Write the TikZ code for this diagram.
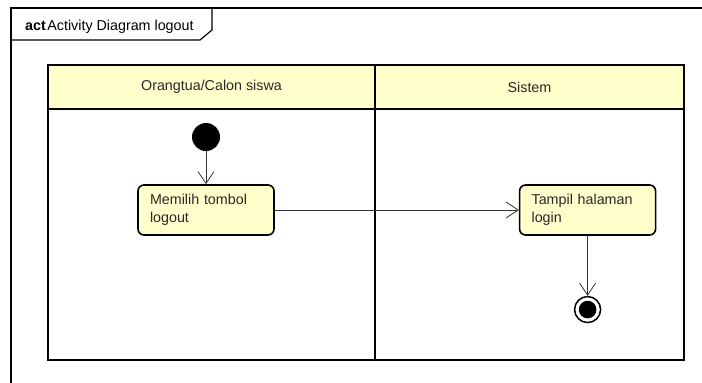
\documentclass[tikz,border=0pt]{standalone}
\usepackage{fontspec}
\setmainfont{Liberation Sans}
\usepackage{tikz}
\usetikzlibrary{positioning}
\usetikzlibrary{arrows.meta}
\definecolor{umlyellow}{RGB}{255,255,204}
\definecolor{umltext}{RGB}{40,40,40}
\tikzstyle{lanehead} = [rectangle, draw=black, line width=1.6pt, fill=umlyellow, minimum height=44pt, inner sep=0pt]
\tikzstyle{action} = [rectangle, rounded corners=6pt, draw=black, line width=1.6pt, fill=umlyellow, minimum height=50pt, text width=112pt, inner xsep=12pt, inner ysep=0pt, align=left]
\tikzstyle{startdot} = [circle, fill=black, minimum size=28pt, inner sep=0pt]
\tikzstyle{enddot} = [circle, draw=black, line width=1.5pt, minimum size=26pt, inner sep=0pt]
\tikzstyle{arrow} = [draw=black!80, line width=0.8pt, -{Straight Barb[length=12pt,width=16pt]}]

\begin{document}
\begin{tikzpicture}[x=1pt, y=-1pt, font=\fontsize{14.3}{18}\selectfont, text=umltext]
\useasboundingbox (0,0) rectangle (702,383);

% frame and its tag
\draw[line width=1.2pt] (11,383) -- (11,8) -- (702,8);
\draw[line width=1.2pt] (11,40) -- (200,40) -- (212,30) -- (212,8);
\node (title) [anchor=base west, inner sep=0pt, text=black] at (25,30) {\textbf{act}\hspace{1.5pt}Activity Diagram logout};

% swimlanes
\draw[line width=1.6pt] (48,65) rectangle (684,360);
\draw[line width=1.6pt] (375,65) -- (375,360);
\node (lane1) [lanehead, minimum width=327pt] at (211.5,87) {Orangtua/Calon siswa};
\node (lane2) [lanehead, minimum width=309pt] at (529.5,87) {Sistem};

\node (start) [startdot] at (206,137) {};
\node (pilih) [action, below=33pt of start] {Memilih tombol\\logout};
\node (tampil) [action, right=244pt of pilih] {Tampil halaman\\login};
\node (end) [enddot, below=60pt of tampil] {};
\fill (end.center) circle (8.8pt);

\draw [arrow] (start) -- (pilih);
\draw [arrow] (pilih) -- (tampil);
\draw [arrow] (tampil) -- (end);
\end{tikzpicture}
\end{document}
